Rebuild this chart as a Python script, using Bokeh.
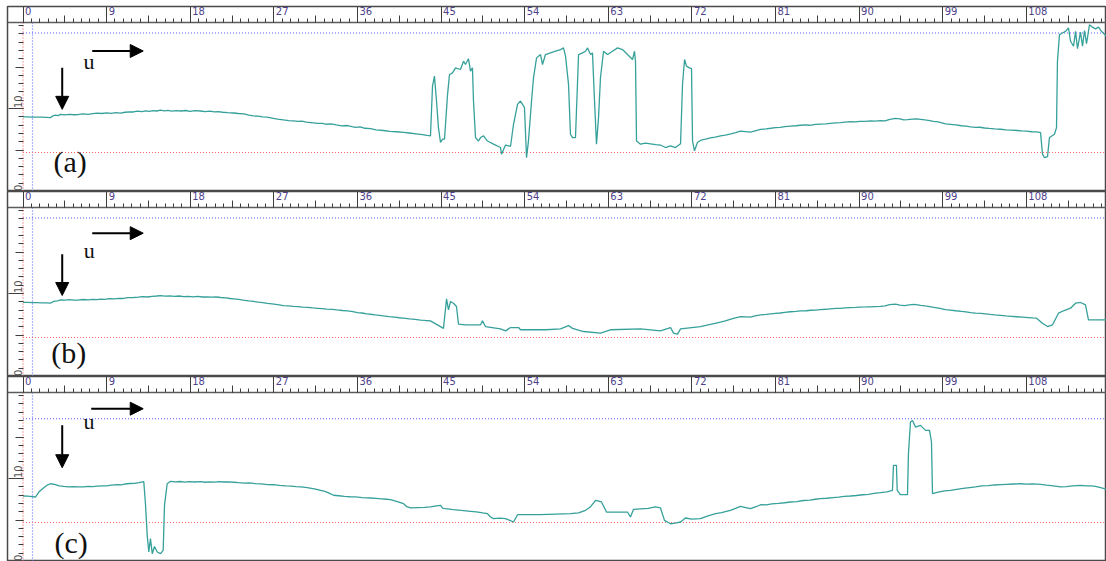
from math import pi

from bokeh.core.properties import value
from bokeh.embed import file_html
from bokeh.layouts import column
from bokeh.models import Arrow, FixedTicker, LinearAxis, NormalHead, Range1d
from bokeh.plotting import figure
from bokeh.resources import INLINE

# ---------------------------------------------------------------- data
# top ruler (horizontal position)
ruler_ticks = [0, 9, 18, 27, 36, 45, 54, 63, 72, 81, 90, 99, 108]
ruler_labels = ["0", "9", "18", "27", "36", "45", "54", "63", "72", "81", "90", "99", "108"]
# left ruler (signal level)
level_ticks = [10, 0]
level_labels = ["10", "0"]

panel_tags = ["(a)", "(b)", "(c)"]
upper_limit = [19.1, 19.1, 17.2]   # blue dotted level per record
lower_limit = [4.7, 4.7, 4.7]      # red dotted level per record

a_x = [0.0, 0.5, 1.0, 1.5, 2.0, 2.5, 2.96, 3.2, 3.5, 3.8, 4.04, 4.5, 5.0, 5.5, 6.0, 6.5,
       7.0, 7.5, 8.0, 8.5, 9.0, 9.5, 10.0, 10.5, 11.0, 11.5, 11.89, 12.3, 12.8, 13.2, 13.6,
       14.0, 14.4, 14.8, 15.2, 15.6, 16.0, 16.5, 17.0, 17.5, 18.0, 18.5, 19.11, 19.6, 20.1,
       20.6, 21.0, 21.5, 22.0, 22.66, 23.2, 23.8, 24.3, 24.81, 25.3, 25.8, 26.3, 26.8, 27.4,
       28.04, 28.6, 29.1, 29.6, 30.0, 30.5, 31.0, 31.7, 32.2, 32.7, 33.2, 33.7, 34.3, 34.93,
       35.4, 35.8, 36.3, 36.8, 37.41, 38.0, 38.8, 39.5, 40.2, 40.96, 41.6, 42.3, 43.0, 43.5,
       43.86, 44.08, 44.29, 44.51, 44.72, 44.94, 45.16, 45.37, 45.7, 45.91, 46.23,
       46.56, 47.09, 47.42, 47.63, 47.95, 48.17, 48.38, 48.49, 48.71, 49.03, 49.25, 49.57,
       50.0, 50.65, 51.4, 51.51, 51.94, 52.48, 52.8, 53.23, 53.55, 53.98, 54.2, 54.41, 54.74,
       54.95, 55.28, 55.71, 55.92, 56.24, 56.78, 57.32, 57.86, 58.18, 58.4, 58.72, 58.93,
       59.15, 59.47, 59.8, 60.23, 60.55, 60.77, 61.09, 61.3, 61.52, 61.73, 61.95, 62.16,
       62.49, 62.92, 63.46, 64.0, 64.53, 65.07, 65.61, 65.82, 65.93, 66.04, 66.47, 67.0,
       67.55, 68.1, 68.62, 69.16, 69.7, 70.24, 70.78, 70.99, 71.21, 71.42, 71.74, 71.96,
       72.07, 72.28, 72.6, 73.0, 73.47, 74.0, 74.5, 75.08, 75.6, 76.2, 76.7, 77.23, 77.8,
       78.31, 78.8, 79.39, 80.0, 80.5, 81.0, 81.5, 82.0, 82.62, 83.2, 83.7, 84.2, 84.7, 85.3,
       85.84, 86.4, 86.9, 87.5, 88.0, 88.5, 89.07, 89.6, 90.1, 90.7, 91.2, 91.7, 92.3, 92.8,
       93.3, 93.92, 94.4, 94.8, 95.2, 95.7, 96.2, 96.61, 97.1, 97.6, 98.0, 98.5, 99.3, 99.8,
       100.4, 101.0, 101.5, 102.0, 102.53, 103.0, 103.5, 104.0, 104.6, 105.22, 105.8, 106.4,
       107.0, 107.5, 108.0, 108.6, 109.1, 109.53, 109.74, 109.96, 110.28, 110.49, 111.03,
       111.25, 111.35, 111.57, 111.89, 112.22, 112.54, 112.76, 113.08, 113.3, 113.51, 113.83,
       114.05, 114.26, 114.48, 114.8, 115.12, 115.44, 115.77, 116.09, 116.63]
a_y = [8.98, 8.98, 8.96, 8.97, 8.95, 8.93, 8.9, 9.1, 9.2, 9.15, 9.3, 9.22, 9.3, 9.25, 9.28, 9.35,
       9.3, 9.38, 9.45, 9.4, 9.48, 9.42, 9.5, 9.45, 9.55, 9.6, 9.58, 9.68, 9.62, 9.72, 9.66,
       9.74, 9.7, 9.8, 9.72, 9.78, 9.68, 9.75, 9.7, 9.76, 9.66, 9.74, 9.7, 9.62, 9.68,
       9.6, 9.62, 9.55, 9.5, 9.46, 9.4, 9.36, 9.2, 9.1, 9.08, 8.98, 8.95, 8.85, 8.72,
       8.62, 8.55, 8.5, 8.45, 8.48, 8.35, 8.3, 8.2, 8.22, 8.1, 8.14, 8.02, 7.9, 7.95,
       7.82, 7.72, 7.78, 7.62, 7.57, 7.42, 7.35, 7.25, 7.2, 7.12, 7.05, 6.95, 6.85, 6.75,
       6.69, 12.71, 13.9, 10.9, 7.7, 5.9, 6.3, 6.3, 11.7, 14.1, 14.3,
       14.9, 14.7, 15.7, 15.3, 16.0, 14.5, 14.9, 10.9, 6.5, 6.08, 6.5, 6.7,
       6.08, 5.7, 5.3, 4.5, 5.6, 5.45, 8.1, 10.5, 10.9, 10.1, 4.07, 6.1, 10.9,
       13.7, 16.1, 16.5, 15.3, 16.5, 16.7, 16.9, 17.1, 17.3, 16.3, 12.9, 6.9,
       6.5, 6.5, 16.5, 16.7, 16.9, 17.3, 16.5, 16.7, 10.9, 5.7, 8.9, 13.7,
       16.9, 16.5, 16.9, 17.3, 17.1, 16.5, 15.9, 16.9, 15.7, 6.08, 5.7, 5.82,
       5.75, 5.66, 5.6, 5.3, 5.5, 5.3, 5.75, 12.9, 15.9, 15.1, 14.9, 14.8,
       6.08, 4.9, 5.9, 6.2, 6.3, 6.45, 6.55, 6.69, 6.8, 6.95, 7.1, 7.28, 7.22,
       7.15, 7.3, 7.48, 7.55, 7.62, 7.7, 7.72, 7.82, 7.88, 7.92, 7.98, 8.02, 7.98, 8.08,
       8.12, 8.15, 8.22, 8.28, 8.3, 8.36, 8.42, 8.4, 8.46, 8.44, 8.5, 8.48, 8.55, 8.52,
       8.7, 8.82, 8.75, 8.62, 8.66, 8.72, 8.75, 8.7, 8.62, 8.55, 8.45, 8.38, 8.15, 8.1,
       8.02, 7.92, 7.88, 7.78, 7.72, 7.74, 7.65, 7.6, 7.55, 7.5, 7.42, 7.4,
       7.35, 7.3, 7.28, 7.2, 7.18, 7.1, 4.5, 4.07, 4.2, 6.5, 6.9,
       7.7, 15.7, 18.9, 19.1, 19.3, 19.7, 18.1, 17.5, 19.3, 17.2, 19.2,
       17.5, 19.4, 17.8, 20.1, 19.8, 19.6, 19.8, 19.3, 18.7]

b_x = [0.0, 0.5, 1.0, 1.5, 2.0, 2.5, 2.96, 3.3, 3.7, 4.04, 4.5, 5.0, 5.5, 6.0, 6.5, 7.0,
       7.5, 8.0, 8.34, 8.8, 9.3, 9.8, 10.3, 10.8, 11.3, 11.89, 12.4, 12.9, 13.4, 13.9, 14.4,
       14.8, 15.3, 15.8, 16.3, 16.8, 17.3, 17.8, 18.3, 18.8, 19.3, 19.8, 20.3, 20.8, 21.3,
       21.8, 22.3, 22.66, 23.2, 23.7, 24.3, 24.81, 25.3, 25.8, 26.3, 26.8, 27.4, 28.04, 28.6,
       29.1, 29.6, 30.1, 30.6, 31.2, 31.7, 32.2, 32.7, 33.3, 33.8, 34.4, 34.93, 35.5, 36.0,
       36.5, 37.0, 37.41, 37.9, 38.4, 38.8, 39.4, 40.0, 40.5, 40.96, 41.6, 42.2, 42.8, 43.3,
       43.86, 45.26, 45.59, 45.8, 46.02, 46.34, 46.66, 46.88, 47.63, 49.25, 49.46, 49.78,
       51.4, 51.94, 52.48, 53.34, 53.55, 56.24, 57.86, 58.72, 59.15, 60.33, 62.16, 63.24,
       66.47, 68.62, 69.7, 70.02, 70.45, 70.78, 72.93, 73.5, 74.0, 74.5, 75.08, 75.6, 76.2,
       76.7, 77.23, 77.8, 78.3, 78.8, 79.39, 80.0, 80.5, 81.0, 81.5, 82.0, 82.62, 83.2,
       83.7, 84.3, 84.8, 85.3, 85.84, 86.4, 86.9, 87.5, 88.0, 88.5, 89.07, 89.6, 90.1, 90.7,
       91.2, 91.7, 92.3, 92.8, 93.3, 93.92, 94.4, 94.9, 95.4, 95.9, 96.3, 96.61, 97.1, 97.6,
       98.2, 98.7, 99.3, 99.8, 100.4, 101.0, 101.5, 102.0, 102.53, 103.1, 103.6, 104.1,
       104.6, 105.22, 105.8, 106.4, 107.0, 107.6, 108.2, 108.7, 109.1, 109.74, 110.28,
       110.82, 111.46, 112.0, 112.76, 113.3, 113.83, 114.37, 114.69, 116.63]
b_y = [8.92, 8.92, 8.9, 8.9, 8.88, 8.86, 8.83, 9.05, 9.12, 9.22, 9.2, 9.26, 9.2, 9.22, 9.28, 9.24,
       9.3, 9.27, 9.32, 9.3, 9.38, 9.36, 9.42, 9.4, 9.5, 9.52, 9.56, 9.62, 9.58, 9.66, 9.7,
       9.74, 9.68, 9.72, 9.66, 9.7, 9.62, 9.66, 9.6, 9.65, 9.58, 9.6, 9.56, 9.58, 9.52,
       9.48, 9.4, 9.36, 9.3, 9.2, 9.1, 9.04, 8.95, 8.9, 8.82, 8.75, 8.66, 8.55, 8.5,
       8.44, 8.42, 8.36, 8.32, 8.26, 8.22, 8.18, 8.12, 8.08, 8.02, 7.95, 7.9, 7.82, 7.7,
       7.65, 7.55, 7.5, 7.42, 7.36, 7.3, 7.22, 7.15, 7.08, 7.03, 6.95, 6.88, 6.8, 6.75,
       6.7, 5.8, 9.36, 8.03, 9.04, 8.83, 8.43, 6.3, 6.23, 6.23, 6.7, 6.02,
       5.74, 5.5, 5.9, 5.9, 5.63, 5.63, 5.74, 6.14, 5.8, 5.42, 5.22, 5.63,
       5.74, 5.5, 5.9, 5.22, 5.1, 5.74, 6.02, 6.15, 6.28, 6.4, 6.54, 6.7, 6.9,
       7.05, 7.2, 7.18, 7.15, 7.3, 7.42, 7.48, 7.55, 7.6, 7.65, 7.72, 7.8, 7.85,
       7.9, 7.92, 7.98, 8.0, 8.05, 8.1, 8.15, 8.2, 8.22, 8.28, 8.3, 8.32, 8.36, 8.38,
       8.4, 8.42, 8.44, 8.5, 8.65, 8.72, 8.6, 8.55, 8.62, 8.68, 8.64, 8.58, 8.5, 8.42,
       8.3, 8.2, 8.06, 8.0, 7.92, 7.85, 7.78, 7.7, 7.64, 7.6, 7.55, 7.48,
       7.42, 7.36, 7.3, 7.25, 7.2, 7.15, 7.1, 7.06, 7.03, 6.42, 6.02,
       6.23, 7.63, 7.92, 8.23, 8.83, 8.92, 8.64, 6.83, 6.83]

c_x = [0.0, 0.5, 1.0, 1.35, 1.7, 2.2, 2.6, 2.96, 3.4, 3.9, 4.39, 4.9, 5.4, 6.0, 6.51, 7.0,
       7.5, 8.0, 8.5, 9.0, 9.5, 10.17, 10.6, 11.0, 11.5, 12.0, 12.5, 13.0, 13.19, 13.37,
       13.54, 13.72, 13.91, 14.15, 14.45, 14.8, 15.09, 15.23, 15.52, 15.88, 16.4, 16.9, 17.4,
       17.9, 18.5, 19.11, 19.6, 20.1, 20.6, 21.1, 21.6, 22.1, 22.66, 23.2, 23.8, 24.4, 25.0,
       25.6, 26.32, 27.0, 27.6, 28.3, 28.9, 29.4, 29.87, 30.4, 30.9, 31.5, 32.03, 32.5, 33.0,
       33.43, 34.0, 34.6, 35.2, 35.8, 36.5, 37.41, 38.0, 38.6, 39.1, 39.56, 40.2, 40.96,
       41.3, 41.71, 42.5, 43.2, 43.86, 44.5, 44.94, 45.2, 45.48, 46.3, 47.2, 48.17, 48.8,
       49.5, 50.0, 50.3, 50.65, 51.3, 51.94, 52.4, 52.8, 53.23, 55.71, 58.93, 59.8, 60.55,
       61.1, 61.63, 62.27, 62.81, 65.07, 65.39, 65.72, 66.5, 67.3, 68.08, 68.62, 69.05,
       69.7, 70.2, 70.78, 71.31, 72.0, 72.93, 73.5, 74.0, 74.55, 75.2, 75.7, 76.15, 76.7,
       77.23, 77.8, 78.31, 78.9, 79.39, 80.0, 80.6, 81.3, 82.0, 82.62, 83.3, 84.0, 84.7,
       85.3, 85.84, 86.5, 87.2, 87.8, 88.4, 89.07, 89.7, 90.4, 91.0, 91.6, 92.3, 93.0,
       93.59, 93.7, 94.02, 94.1, 94.45, 95.21, 95.31, 95.53, 95.75, 96.07, 96.61, 97.15,
       97.58, 97.79, 97.9, 98.5, 99.2, 99.84, 100.5, 101.2, 101.9, 102.53, 103.2, 103.9,
       104.6, 105.22, 105.9, 106.6, 107.37, 108.0, 108.7, 109.53, 110.2, 110.9, 111.68,
       112.3, 113.0, 113.83, 114.5, 115.0, 115.44, 116.0, 116.63]
c_y = [7.89, 7.88, 7.82, 7.77, 8.37, 8.85, 9.2, 9.37, 9.3, 9.12, 9.06, 9.0, 9.02, 8.98, 8.98, 9.04,
       9.02, 9.08, 9.1, 9.12, 9.2, 9.26, 9.22, 9.34, 9.4, 9.42, 9.5, 9.62, 6.77, 3.15,
       1.14, 2.75, 0.94, 1.8, 1.14, 0.94, 1.35, 6.8, 9.37, 9.66, 9.6, 9.64, 9.56,
       9.62, 9.58, 9.62, 9.55, 9.6, 9.56, 9.62, 9.58, 9.6, 9.55, 9.5, 9.45, 9.48, 9.38,
       9.36, 9.26, 9.25, 9.18, 9.12, 9.08, 9.02, 8.98, 8.92, 8.85, 8.72, 8.58, 8.45, 8.2,
       7.98, 7.92, 7.85, 7.8, 7.78, 7.7, 7.65, 7.6, 7.55, 7.5, 7.45, 7.25, 6.96,
       6.62, 6.45, 6.5, 6.52, 6.57, 6.7, 6.77, 6.4, 6.36, 6.25, 6.15, 6.05, 5.98,
       5.85, 5.76, 5.4, 5.16, 5.22, 5.16, 4.95, 4.76, 5.64, 5.64, 5.76, 5.85, 6.17,
       6.6, 7.37, 7.17, 5.96, 5.96, 5.36, 6.29, 6.35, 6.4, 6.57, 6.45, 4.96,
       4.55, 4.62, 4.76, 5.24, 5.1, 5.16, 5.4, 5.6, 5.76, 5.9, 6.05, 6.17, 6.4,
       6.65, 6.5, 6.36, 6.6, 6.84, 6.82, 6.95, 7.0, 7.08, 7.17, 7.22, 7.35, 7.4,
       7.5, 7.57, 7.62, 7.7, 7.75, 7.84, 7.89, 7.95, 8.04, 8.1, 8.2, 8.29, 8.4,
       8.58, 11.59, 11.59, 8.58, 8.05, 8.05, 12.99, 16.81, 17.0, 16.2, 16.4, 15.8,
       15.8, 14.4, 8.17, 8.35, 8.5, 8.58, 8.7, 8.8, 8.9, 8.98, 9.1, 9.15,
       9.22, 9.26, 9.3, 9.34, 9.37, 9.32, 9.36, 9.3, 9.2, 9.1, 8.98,
       9.02, 9.1, 9.18, 9.12, 9.1, 9.05, 8.9, 8.7]

traces = [(a_x, a_y), (b_x, b_y), (c_x, c_y)]

# ---------------------------------------------------------------- layout
X_LO, X_HI = -1.67, 116.63      # frame spans the left ruler strip too
Y_TOP = 22.29                   # top of the ruler strip
RULER_Y = 20.36                 # bottom line of the top ruler
PX_PER_UNIT = 1099 / (X_HI - X_LO)
DIGIT_PX = 6.36                 # advance of one digit at 10px DejaVu Sans
TRACE_COLOR = "#36a09a"
RULE_COLOR = "#3d3d3d"
BORDER_COLOR = "#4a4a4a"
LABEL_COLOR = "#4e3f8a"

# arrow/annotation placement per record
h_arrow = [(7.45, 12.94, 16.93), (7.45, 12.94, 17.27), (7.34, 12.94, 18.41)]
v_arrow = [(4.22, 14.92, 9.9), (4.22, 14.73, 9.76), (4.22, 16.41, 11.3)]
u_pos = [(6.5, 15.61), (6.55, 15.22), (6.5, 16.85)]
tag_pos = [(3.28, 3.58), (3.03, 2.92), (3.39, 2.34)]


def rule_axis(loc, ticks, minor, tick_len, minor_len, line_color=None, line_width=1.0):
    """An axis used only for its line and inward ticks (no tick labels)."""
    return LinearAxis(fixed_location=loc,
                      ticker=FixedTicker(ticks=ticks, minor_ticks=minor),
                      axis_line_color=line_color, axis_line_width=line_width,
                      major_tick_in=tick_len, major_tick_out=0,
                      major_tick_line_color=RULE_COLOR,
                      minor_tick_in=minor_len, minor_tick_out=0,
                      minor_tick_line_color=RULE_COLOR,
                      major_label_text_color=None, major_label_standoff=0)


def ruler_number_axis():
    """Numbers of the top ruler, written just right of each divider."""
    centres = [round(t + (2 + DIGIT_PX * len(s) / 2) / PX_PER_UNIT, 3)
               for t, s in zip(ruler_ticks, ruler_labels)]
    return LinearAxis(fixed_location=Y_TOP,
                      ticker=FixedTicker(ticks=centres, minor_ticks=[]),
                      major_label_overrides=dict(zip(centres, ruler_labels)),
                      axis_line_color=None,
                      major_tick_in=0, major_tick_out=0,
                      minor_tick_in=0, minor_tick_out=0,
                      major_label_standoff=0,
                      major_label_text_font="DejaVu Sans",
                      major_label_text_font_size="10px",
                      major_label_text_color=LABEL_COLOR)


def make_panel(i):
    top_gap = 6 if i == 0 else 0
    p = figure(width=1106, height=185 + top_gap, output_backend="svg",
               toolbar_location=None, x_axis_location=None, y_axis_location=None,
               x_range=Range1d(X_LO, X_HI), y_range=Range1d(0, Y_TOP),
               min_border_left=7, min_border_right=0, min_border_bottom=0,
               min_border_top=top_gap)
    p.grid.visible = False
    p.background_fill_color = "white"
    p.border_fill_color = "white"
    p.outline_line_color = BORDER_COLOR
    p.outline_line_width = 1.5

    # top ruler: dividers + minor ticks, the half-way ticks, then the numbers
    minor = [k * 0.9 for k in range(0, 130)]
    p.add_layout(rule_axis(RULER_Y, ruler_ticks, minor, 16, 4, "#5c5c5c", 1.5), "below")
    p.add_layout(rule_axis(RULER_Y, [t + 4.5 for t in ruler_ticks], [], 7, 0), "below")
    p.add_layout(ruler_number_axis(), "below")

    # left ruler: ticks grow leftwards from x = 0
    p.add_layout(rule_axis(0, [10], list(range(0, 21)), 15, 5), "right")
    p.add_layout(rule_axis(0, [5, 15], [], 8, 0), "right")
    p.text(x=[-0.5] * len(level_ticks), y=[t + 0.05 for t in level_ticks], text=level_labels,
           angle=pi / 2, text_align="left", text_baseline="alphabetic",
           text_font=value("DejaVu Sans"), text_font_size="10px", text_color="#555555")

    # limit lines
    p.segment(x0=[0, 1.02], y0=[0, 0], x1=[0, 1.02], y1=[RULER_Y, RULER_Y],
              line_color=["#ff6b6b", "#6a6aff"], line_width=1.2, line_dash="1 2")
    p.segment(x0=[0, 0], y0=[upper_limit[i], lower_limit[i]],
              x1=[X_HI, X_HI], y1=[upper_limit[i], lower_limit[i]],
              line_color=["#5a5aff", "#ff6666"], line_width=1.2, line_dash="1 2")

    # signal trace
    xs, ys = traces[i]
    p.line(xs, ys, line_color=TRACE_COLOR, line_width=1.3)

    # direction arrows and labels
    hx0, hx1, hy = h_arrow[i]
    p.add_layout(Arrow(end=NormalHead(size=13, fill_color="black", line_color="black"),
                       x_start=hx0, y_start=hy, x_end=hx1, y_end=hy,
                       line_color="black", line_width=2))
    vx, vy0, vy1 = v_arrow[i]
    p.add_layout(Arrow(end=NormalHead(size=13, fill_color="black", line_color="black"),
                       x_start=vx, y_start=vy0, x_end=vx, y_end=vy1,
                       line_color="black", line_width=2))
    ux, uy = u_pos[i]
    p.text(x=[ux], y=[uy], text=["u"], text_align="left", text_baseline="alphabetic",
           text_font=value("Liberation Serif"), text_font_size="22px", text_color="#111111")
    tx, ty = tag_pos[i]
    p.text(x=[tx], y=[ty], text=[panel_tags[i]], text_align="left",
           text_baseline="alphabetic", text_font=value("Liberation Serif"),
           text_font_size="30px", text_color="#111111")
    return p


layout = column(*[make_panel(i) for i in range(3)], spacing=0)
open("out.html", "w").write(file_html(layout, INLINE))
